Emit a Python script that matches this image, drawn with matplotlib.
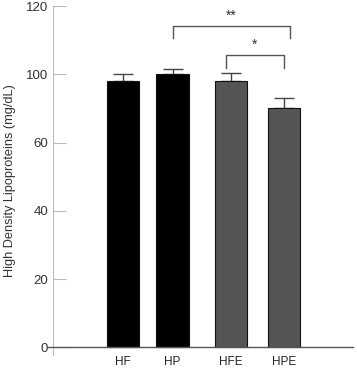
import matplotlib
matplotlib.use("Agg")
import matplotlib.pyplot as plt
import matplotlib.transforms as mtransforms

plt.rcParams['font.family'] = ['Liberation Sans', 'DejaVu Sans']

categories = ["HF", "HP", "HFE", "HPE"]
values = [77.9, 80.1, 77.9, 70.1]
errors = [2.2, 1.4, 2.5, 2.9]
tick_values = [0, 20, 40, 60, 80, 100]
tick_labels = ["0", "20", "40", "60", "100", "120"]
bar_colors = ["#000000", "#000000", "#555555", "#555555"]

# layout
x_pos = [0, 1, 2.18, 3.25]

fig = plt.figure(figsize=(3.57, 3.69), dpi=100)
ax = fig.add_axes([53/357, 14/369, 300/357, 349/369])

ax.bar(x_pos, values, width=0.65, color=bar_colors, edgecolor="#111111", linewidth=0.8, zorder=2)
ax.errorbar(x_pos, values, yerr=[[0]*4, errors], fmt="none", ecolor="#444444",
            elinewidth=1.0, capsize=7, capthick=1.0, zorder=1)

ax.set_xlim(-1.414, 4.646)
ax.set_ylim(-2.2, 100)
ax.set_yticks(tick_values)
ax.set_yticklabels(tick_labels)
ax.set_xticks(x_pos)
ax.set_xticklabels(categories)
ax.tick_params(axis='y', direction='in', length=9, width=0.8, color="#bbbbbb",
               labelsize=9.5, labelcolor="#333333", pad=3.5)
ax.tick_params(axis='x', length=0, labelsize=8.5, labelcolor="#222222", pad=1)

for s in ["top", "right", "bottom"]:
    ax.spines[s].set_visible(False)
ax.spines["left"].set_color("#bbbbbb")
ax.spines["left"].set_linewidth(0.8)

trans = mtransforms.blended_transform_factory(ax.transAxes, ax.transData)
ax.plot([-0.017, 1.0], [0, 0], transform=trans, color="#555555", lw=1.0, clip_on=False, zorder=3)

ax.set_ylabel("High Density Lipoproteins (mg/dL)", fontsize=9.2, color="#333333", labelpad=7)

# significance brackets
def bracket(x1, x2, y, h, text):
    ax.plot([x1, x1, x2, x2], [y - h, y, y, y - h], color="#555555", lw=1.0)
    ax.text((x1 + x2) / 2, y + 1.0, text, ha="center", va="bottom", fontsize=10, color="#333333")

bracket(x_pos[1], x_pos[3] + 0.12, 94.2, 3.5, "**")
bracket(x_pos[2] - 0.1, x_pos[3], 85.7, 3.8, "*")

fig.savefig("out.png", dpi=100)
